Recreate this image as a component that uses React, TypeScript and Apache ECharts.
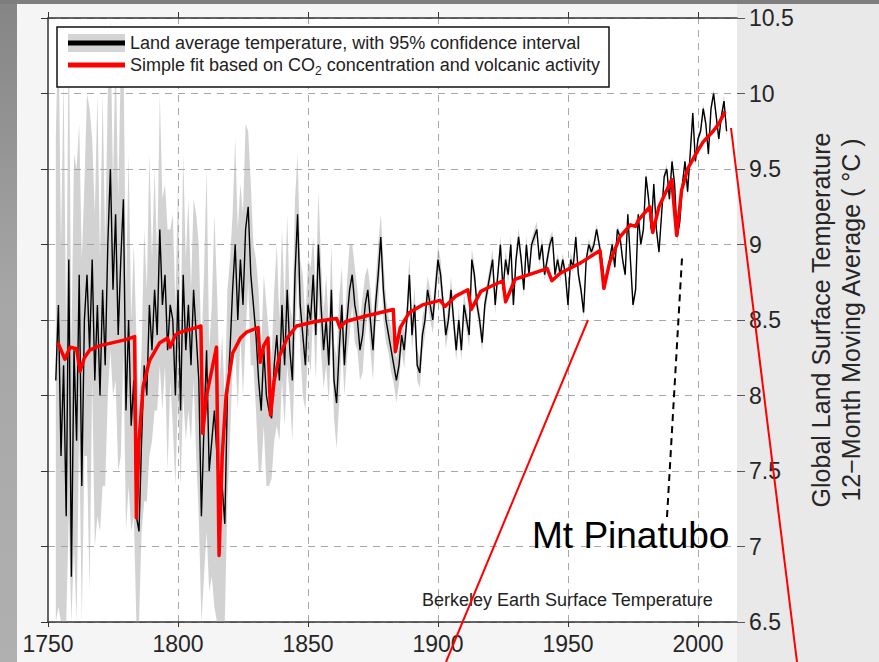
import React, { useEffect, useRef } from "react";
import * as echarts from "echarts";

// ---- Data ----
const START_YEAR = 1753;

// Land average temperature (°C), one value per year from 1753 to 2011
const landAvg: number[] = [
  // 1753-1759
  8.1, 8.6, 7.6, 8.2, 7.2, 8.9, 6.8,
  // 1760-1769
  8.3, 7.7, 8.8, 7.4, 8.5, 8.8, 8.3, 8.9, 8.1, 8.6,
  // 1770-1779
  8.0, 8.7, 8.2, 9.0, 9.5, 8.7, 9.2, 8.4, 8.9, 9.3,
  // 1780-1789
  7.9, 8.5, 7.8, 8.1, 7.2, 7.1, 7.7, 8.2, 8.0, 8.6,
  // 1790-1799
  8.3, 8.7, 8.4, 9.1, 8.6, 8.8, 8.3, 8.6, 8.5, 8.0,
  // 1800-1809
  8.7, 7.9, 8.8, 8.3, 8.6, 8.2, 8.7, 8.4, 8.1, 7.2,
  // 1810-1819
  7.8, 8.3, 7.5, 7.7, 7.9, 7.6, 7.2, 7.4, 7.15, 8.0,
  // 1820-1829
  8.3, 8.7, 9.0, 8.5, 8.9, 8.6, 9.1, 9.25, 8.8, 8.6,
  // 1830-1839
  8.4, 8.1, 7.9, 8.3, 8.0, 7.9, 7.85, 8.2, 8.4, 8.1,
  // 1840-1849
  8.6, 8.2, 8.7, 8.3, 8.1, 8.8, 9.2, 8.6, 8.4, 8.2,
  // 1850-1859
  8.6, 8.5, 8.8, 8.4, 9.0, 8.6, 8.3, 8.5, 8.2, 8.7,
  // 1860-1869
  8.1, 7.95, 8.3, 8.6, 8.2, 8.5, 8.7, 8.8, 8.6, 8.5,
  // 1870-1879
  8.3, 8.4, 8.6, 8.7, 8.5, 8.3, 8.6, 8.8, 9.05, 8.7,
  // 1880-1889
  8.5, 8.4, 8.3, 8.2, 8.1, 8.2, 8.4, 8.3, 8.5, 8.8,
  // 1890-1899
  8.4, 8.6, 8.2, 8.15, 8.4, 8.5, 8.7, 8.6, 8.5, 8.7,
  // 1900-1909
  8.9, 8.8, 8.6, 8.4, 8.5, 8.7, 8.5, 8.3, 8.5, 8.3,
  // 1910-1919
  8.6, 8.5, 8.4, 8.9, 8.8, 8.6, 8.5, 8.35, 8.6, 8.7,
  // 1920-1929
  8.8, 8.9, 8.6, 8.8, 9.0, 8.7, 8.9, 8.8, 9.0, 8.6,
  // 1930-1939
  8.9, 9.05, 8.9, 8.7, 9.0, 8.8, 9.0, 9.05, 9.1, 8.9,
  // 1940-1949
  9.0, 8.8, 8.9, 9.0, 9.05, 8.8, 8.9, 8.8, 8.9, 8.8,
  // 1950-1959
  8.6, 8.9, 8.85, 9.05, 8.8, 8.7, 8.55, 8.9, 9.0, 8.95,
  // 1960-1969
  9.0, 9.1, 9.0, 8.9, 8.75, 8.8, 8.9, 9.0, 8.85, 9.1,
  // 1970-1979
  9.05, 8.9, 8.8, 9.2, 8.9, 8.6, 8.7, 9.2, 9.0, 9.1,
  // 1980-1989
  9.45, 9.3, 9.1, 9.4, 9.1, 8.95, 9.2, 9.45, 9.5, 9.3,
  // 1990-1999
  9.55, 9.4, 9.05, 9.15, 9.4, 9.55, 9.35, 9.6, 9.87, 9.55,
  // 2000-2009
  9.7, 9.75, 9.9, 9.8, 9.6, 9.9, 10.0, 9.85, 9.7, 9.85,
  // 2010-2011
  9.95, 9.75,
];

// 95% confidence half-width (°C), one value per year from 1753 to 2011
const uncertainty: number[] = [
  1.6, 2.0, 1.4, 1.9, 1.2, 1.7, 1.5,
  1.3, 1.8, 1.0, 1.5, 0.9, 1.2, 1.6, 0.8, 1.1, 1.4,
  0.9, 1.3, 0.8, 1.0, 1.2, 0.7, 1.1, 0.9, 1.3, 1.0,
  0.8, 1.1, 0.7, 0.9, 1.2, 0.8, 0.6, 0.9, 0.7, 1.0,
  0.6, 0.8, 0.5, 0.9, 0.7, 0.6, 0.8, 0.5, 0.7, 0.6,
  0.7, 0.5, 0.8, 0.6, 0.7, 0.5, 0.6, 0.8, 0.9, 1.1,
  1.0, 1.2, 0.8, 0.9, 1.3, 1.1, 0.9, 1.0, 0.8, 0.7,
  0.6, 0.5, 0.7, 0.6, 0.5, 0.6, 0.7, 0.5, 0.6, 0.4,
  0.5, 0.6, 0.4, 0.5, 0.6, 0.5, 0.4, 0.5, 0.6, 0.4,
  0.5, 0.4, 0.5, 0.3, 0.4, 0.5, 0.4, 0.3, 0.4, 0.3,
  0.3, 0.35, 0.25, 0.3, 0.35, 0.3, 0.25, 0.3, 0.25, 0.3,
  0.25, 0.3, 0.35, 0.25, 0.2, 0.25, 0.3, 0.2, 0.25, 0.2,
  0.2, 0.25, 0.2, 0.15, 0.2, 0.2, 0.15, 0.2, 0.15, 0.2,
  0.15, 0.12, 0.15, 0.12, 0.15, 0.12, 0.1, 0.12, 0.1, 0.12,
  0.1, 0.12, 0.1, 0.1, 0.12, 0.1, 0.09, 0.1, 0.09, 0.1,
  0.09, 0.1, 0.08, 0.09, 0.08, 0.09, 0.08, 0.07, 0.08, 0.07,
  0.08, 0.07, 0.08, 0.07, 0.07, 0.06, 0.07, 0.06, 0.07, 0.06,
  0.06, 0.07, 0.06, 0.05, 0.06, 0.05, 0.06, 0.05, 0.06, 0.05,
  0.05, 0.06, 0.05, 0.05, 0.06, 0.05, 0.04, 0.05, 0.05, 0.04,
  0.05, 0.04, 0.05, 0.05, 0.04, 0.05, 0.04, 0.05, 0.04, 0.04,
  0.04, 0.05, 0.04, 0.04, 0.05, 0.04, 0.04, 0.03, 0.04, 0.04,
  0.04, 0.03, 0.04, 0.03, 0.04, 0.03, 0.03, 0.04, 0.03, 0.03,
  0.03, 0.04, 0.03, 0.03, 0.03, 0.04, 0.03, 0.03, 0.03, 0.04,
  0.03, 0.03, 0.04, 0.03, 0.03, 0.03, 0.04, 0.03, 0.03, 0.03,
  0.03, 0.03, 0.04, 0.03, 0.03, 0.03, 0.04, 0.03, 0.03, 0.03,
  0.03, 0.03, 0.03, 0.04, 0.03, 0.03, 0.03, 0.04, 0.03, 0.03,
  0.04, 0.05,
];

// Simple fit based on CO2 concentration and volcanic activity
const fitYears: number[] = [
  1753.8, 1756.5, 1758.5, 1761, 1762.3, 1764, 1766, 1770, 1775, 1780,
  1783.3, 1784.0, 1785, 1786.6, 1789, 1793, 1796, 1797, 1799, 1801,
  1805, 1808.8, 1809.5, 1811, 1814.8, 1815.8, 1817, 1818.5, 1821, 1824,
  1826.4, 1830.8, 1831.6, 1833, 1834.6, 1835.6, 1837, 1839, 1842, 1845.6,
  1853, 1861, 1862.3, 1864.5, 1873, 1882.8, 1883.6, 1885.5, 1889, 1894,
  1900.8, 1902.7, 1907, 1911.5, 1912.8, 1916.5, 1920, 1925, 1926, 1929.6,
  1935, 1942, 1943.8, 1947, 1955, 1962.3, 1963.8, 1966, 1970, 1974,
  1976, 1977, 1981.5, 1982.6, 1985, 1989.9, 1991.8, 1993.7, 1996, 1999.5,
  2002, 2005.8, 2008, 2010.4,
];
const fitValues: number[] = [
  8.35, 8.24, 8.32, 8.31, 8.16, 8.25, 8.3, 8.33, 8.35, 8.37,
  8.39, 7.19, 7.7, 8.06, 8.23, 8.35, 8.38, 8.32, 8.4, 8.42,
  8.44, 8.46, 7.75, 8.0, 8.32, 6.94, 7.6, 8.0, 8.28, 8.38,
  8.42, 8.45, 8.22, 8.33, 8.38, 7.87, 8.1, 8.26, 8.38, 8.46,
  8.49, 8.51, 8.45, 8.49, 8.53, 8.57, 8.29, 8.45, 8.55, 8.6,
  8.63, 8.59, 8.66, 8.7, 8.57, 8.69, 8.72, 8.76, 8.62, 8.77,
  8.8, 8.84, 8.76, 8.81, 8.88, 8.96, 8.71, 8.88, 9.05, 9.13,
  9.12, 9.16, 9.25, 9.08, 9.25, 9.43, 9.06, 9.36, 9.5, 9.61,
  9.68, 9.75, 9.8, 9.88,
];

const xTickYears = [1750, 1800, 1850, 1900, 1950, 2000];
const yTickValues = [6.5, 7, 7.5, 8, 8.5, 9, 9.5, 10, 10.5];

const FONT = 'Arial, "Liberation Sans", Helvetica, sans-serif';

export default function App() {
  const ref = useRef<HTMLDivElement | null>(null);

  useEffect(() => {
    if (!ref.current) return;
    const chart = echarts.init(ref.current, undefined, { renderer: "svg" });

    const yMin = yTickValues[0];
    const yMax = yTickValues[yTickValues.length - 1];
    const avgData = landAvg.map((v, i) => [START_YEAR + i, v]);
    const bandData = landAvg.map((v, i) => [
      START_YEAR + i,
      Math.max(yMin, v - uncertainty[i]),
      Math.min(yMax, v + uncertainty[i]),
    ]);
    const fitData = fitYears.map((y, i) => [y, fitValues[i]]);

    const xAxisCommon = {
      type: "value" as const,
      min: xTickYears[0],
      max: 2015,
      interval: 50,
      splitLine: { show: false },
    };

    chart.setOption({
      animation: false,
      backgroundColor: "transparent",
      grid: {
        left: 48,
        right: 142,
        top: 18,
        bottom: 40,
        show: true,
        backgroundColor: "#ffffff",
        borderWidth: 0,
        borderColor: "transparent",
      },
      xAxis: [
        {
          ...xAxisCommon,
          position: "bottom",
          axisLine: { show: true, onZero: false, lineStyle: { color: "#333", width: 1.5 } },
          axisTick: {
            show: true,
            inside: false,
            length: 5,
            customValues: xTickYears,
            lineStyle: { color: "#333" },
          },
          axisLabel: {
            show: true,
            fontSize: 23,
            fontFamily: FONT,
            color: "#262626",
            margin: 10,
            customValues: xTickYears,
            formatter: (v: number) => String(Math.round(v)),
          },
          splitLine: { show: false },
        },
        {
          ...xAxisCommon,
          position: "top",
          axisLine: { show: true, onZero: false, lineStyle: { color: "#333", width: 1.5 } },
          axisTick: {
            show: true,
            inside: false,
            length: 6,
            customValues: xTickYears,
            lineStyle: { color: "#333" },
          },
          axisLabel: { show: false },
          splitLine: { show: false },
        },
      ],
      yAxis: [
        {
          type: "value",
          position: "right",
          min: yMin,
          max: yMax,
          interval: 0.5,
          axisLine: { show: false },
          axisTick: { show: true, inside: false, length: 8, lineStyle: { color: "#555" } },
          axisLabel: {
            show: true,
            fontSize: 23,
            fontFamily: FONT,
            color: "#262626",
            margin: 12,
          },
          splitLine: {
            show: true,
            lineStyle: { color: "#a8a8a8", type: [7, 6], width: 1 },
          },
        },
        {
          type: "value",
          position: "left",
          min: yMin,
          max: yMax,
          interval: 0.5,
          axisLine: { show: true, onZero: false, lineStyle: { color: "#333", width: 1.5 } },
          axisTick: { show: true, inside: false, length: 7, lineStyle: { color: "#333" } },
          axisLabel: { show: false },
          splitLine: { show: false },
        },
      ],
      series: [
        {
          type: "custom",
          name: "band",
          xAxisIndex: 0,
          yAxisIndex: 0,
          data: bandData,
          encode: { x: 0, y: [1, 2] },
          z: 1,
          silent: true,
          renderItem: (params: any, api: any) => {
            if (params.dataIndex !== 0) return null;
            const upper = bandData.map((d) => api.coord([d[0], d[2]]));
            const lower = bandData
              .slice()
              .reverse()
              .map((d) => api.coord([d[0], d[1]]));
            return {
              type: "polygon",
              shape: { points: upper.concat(lower) },
              style: { fill: "rgba(155,155,155,0.45)", stroke: "none" },
            };
          },
        },
        {
          type: "line",
          name: "Land average temperature, with 95% confidence interval",
          xAxisIndex: 0,
          yAxisIndex: 0,
          data: avgData,
          showSymbol: false,
          symbol: "none",
          z: 3,
          lineStyle: { color: "#000000", width: 1.4 },
          markLine: {
            silent: true,
            symbol: "none",
            label: { show: false },
            lineStyle: { color: "#a8a8a8", type: [7, 6], width: 1 },
            z: 0,
            data: xTickYears.slice(1).map((y) => ({ xAxis: y })),
          },
        },
        {
          type: "line",
          name: "Simple fit based on CO2 concentration and volcanic activity",
          xAxisIndex: 0,
          yAxisIndex: 0,
          data: fitData,
          showSymbol: false,
          symbol: "none",
          z: 4,
          lineStyle: { color: "#ff0000", width: 3.5, join: "round" },
        },
      ],
      graphic: [
        // legend box
        {
          type: "rect",
          z: 100,
          shape: { x: 57, y: 27, width: 552, height: 60 },
          style: { fill: "#ffffff", stroke: "#111", lineWidth: 1.5 },
        },
        {
          type: "rect",
          z: 101,
          shape: { x: 68, y: 34, width: 57, height: 18 },
          style: { fill: "#d4d4d4" },
        },
        {
          type: "line",
          z: 102,
          shape: { x1: 68, y1: 43, x2: 125, y2: 43 },
          style: { stroke: "#000", lineWidth: 5 },
        },
        {
          type: "line",
          z: 102,
          shape: { x1: 68, y1: 65, x2: 125, y2: 65 },
          style: { stroke: "#ff0000", lineWidth: 5 },
        },
        {
          type: "text",
          z: 103,
          x: 130,
          y: 43,
          style: {
            text: "Land average temperature, with 95% confidence interval",
            font: `18px ${FONT}`,
            fill: "#222",
            verticalAlign: "middle",
            align: "left",
          },
        },
        {
          type: "text",
          z: 103,
          x: 130,
          y: 65,
          style: {
            text: "{a|Simple fit based on CO}{s|2}{a| concentration and volcanic activity}",
            fill: "#222",
            verticalAlign: "middle",
            align: "left",
            rich: {
              a: { fontSize: 18, fontFamily: FONT, color: "#222", lineHeight: 24, verticalAlign: "middle" },
              s: { fontSize: 12, fontFamily: FONT, color: "#222", lineHeight: 24, verticalAlign: "bottom" },
            },
          },
        },
        // right axis title
        {
          type: "text",
          z: 50,
          x: 836,
          y: 320,
          rotation: Math.PI / 2,
          style: {
            text: "Global Land Surface Temperature\n12\u2212Month Moving Average ( \u00b0C )",
            font: `25px ${FONT}`,
            fill: "#262626",
            align: "center",
            verticalAlign: "middle",
            lineHeight: 30,
          },
        },
        // source note
        {
          type: "text",
          z: 50,
          x: 422,
          y: 600,
          style: {
            text: "Berkeley Earth Surface Temperature",
            font: `18px ${FONT}`,
            fill: "#222",
            verticalAlign: "middle",
            align: "left",
          },
        },
        // Mt Pinatubo annotation
        {
          type: "line",
          z: 60,
          shape: { x1: 667, y1: 517, x2: 682, y2: 258 },
          style: { stroke: "#000", lineWidth: 2, lineDash: [7, 5] },
        },
        {
          type: "text",
          z: 60,
          x: 532,
          y: 535,
          style: {
            text: "Mt Pinatubo",
            font: `37px ${FONT}`,
            fill: "#000",
            verticalAlign: "middle",
            align: "left",
          },
        },
        // red zoom lines
        {
          type: "line",
          z: 60,
          shape: { x1: 588, y1: 320, x2: 446, y2: 662 },
          style: { stroke: "#ff0000", lineWidth: 2 },
        },
        {
          type: "line",
          z: 60,
          shape: { x1: 731, y1: 128, x2: 797, y2: 662 },
          style: { stroke: "#ff0000", lineWidth: 2 },
        },
      ],
    });

    return () => chart.dispose();
  }, []);

  return (
    <div
      style={{
        position: "fixed",
        left: 0,
        top: 0,
        width: 879,
        height: 662,
        background: "#f5f5f5",
        overflow: "hidden",
      }}
    >
      <div
        style={{
          position: "absolute",
          left: 737,
          top: 0,
          width: 142,
          height: 662,
          background: "#e9e9e9",
        }}
      />
      <div
        style={{
          position: "absolute",
          left: 0,
          top: 0,
          width: 17,
          height: 662,
          background: "linear-gradient(#858585, #a6a6a6 45%, #b0b0b0)",
        }}
      />
      <div
        style={{
          position: "absolute",
          left: 0,
          top: 0,
          width: 879,
          height: 4,
          background: "#7e7e7e",
        }}
      />
      <div
        ref={ref}
        style={{ position: "absolute", left: 0, top: 0, width: 879, height: 662 }}
      />
    </div>
  );
}
